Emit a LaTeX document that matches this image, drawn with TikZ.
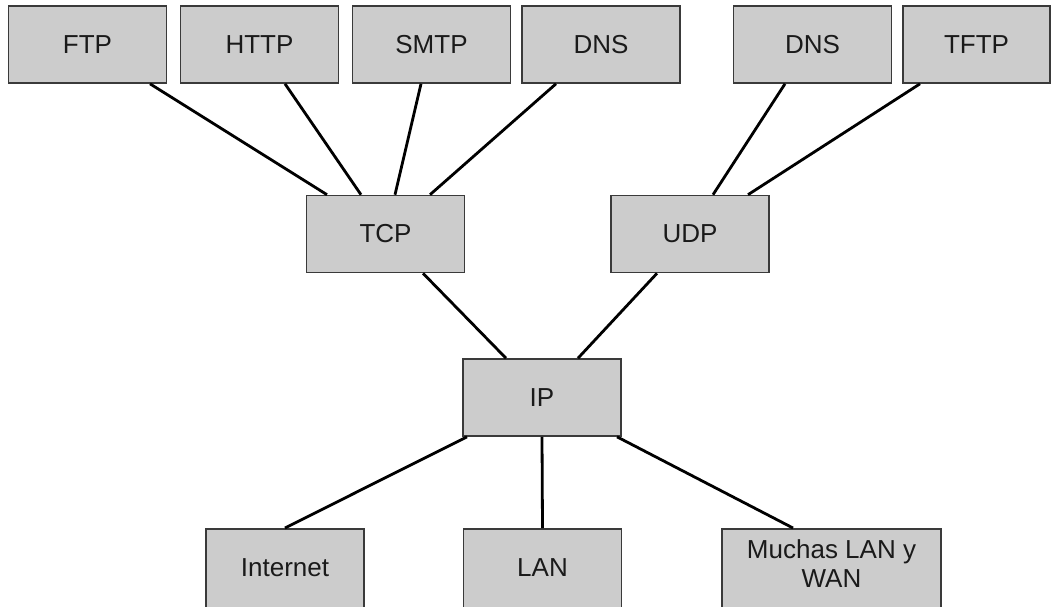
\documentclass[tikz,border=0pt]{standalone}
\usepackage{fontspec}
\setmainfont{Liberation Sans}
\definecolor{boxfill}{HTML}{CCCCCC}
\definecolor{boxline}{HTML}{3A3A3A}
\definecolor{txt}{HTML}{1A1A1A}
\newcommand{\lift}[1]{\raisebox{0pt}[\height][\dimexpr\depth+15pt\relax]{#1}}
\tikzset{
  proto/.style={draw=boxline, line width=1.6pt, fill=boxfill, minimum width=158pt, minimum height=77pt, inner sep=0pt, text=txt, font=\fontsize{26}{30}\selectfont, align=center},
  lowbox/.style={proto, minimum height=92pt, anchor=north},
  link/.style={draw=black, line width=2.8pt}
}
\begin{document}
\begin{tikzpicture}[x=1pt,y=-1pt]
\fill[white] (0,0) rectangle (1052,606);
\useasboundingbox (0,0) rectangle (1052,606);
% top row
\node[proto] (ftp)  at (87.5,44.5) {FTP};
\node[proto] (http) at (259.5,44.5) {HTTP};
\node[proto] (smtp) at (431.5,44.5) {SMTP};
\node[proto] (dnsa) at (601,44.5) {DNS};
\node[proto] (dnsb) at (812.5,44.5) {DNS};
\node[proto, minimum width=147pt] (tftp) at (976.5,44.5) {TFTP};
% transport
\node[proto] (tcp) at (385.5,234) {TCP};
\node[proto] (udp) at (690,234) {UDP};
% network
\node[proto] (ip) at (542,397.5) {IP};
% bottom (cut by the lower edge)
\node[lowbox] (inet) at (285,528) {\lift{Internet}};
\node[lowbox] (lan) at (542.5,528) {\lift{LAN}};
\node[lowbox, minimum width=219pt] (many) at (831.5,528) {\lift{\begin{tabular}{@{}c@{}}Muchas LAN y\\[-1pt]WAN\end{tabular}}};
% connectors
\draw[link] ([xshift=62.5pt]ftp.south) -- ([xshift=-58.5pt]tcp.north);
\draw[link] ([xshift=25.5pt]http.south) -- ([xshift=-24.5pt]tcp.north);
\draw[link] ([xshift=-10.5pt]smtp.south) -- ([xshift=9.5pt]tcp.north);
\draw[link] ([xshift=-45pt]dnsa.south) -- ([xshift=44.5pt]tcp.north);
\draw[link] ([xshift=-27.5pt]dnsb.south) -- ([xshift=23pt]udp.north);
\draw[link] ([xshift=-56.5pt]tftp.south) -- ([xshift=58pt]udp.north);
\draw[link] ([xshift=37.5pt]tcp.south) -- ([xshift=-36pt]ip.north);
\draw[link] ([xshift=-33pt]udp.south) -- ([xshift=36pt]ip.north);
\draw[link] ([xshift=-75pt]ip.south) -- (inet.north);
\draw[link] (ip.south) -- (lan.north);
\draw[link] ([xshift=75pt]ip.south) -- ([xshift=-38.5pt]many.north);
\end{tikzpicture}
\end{document}
